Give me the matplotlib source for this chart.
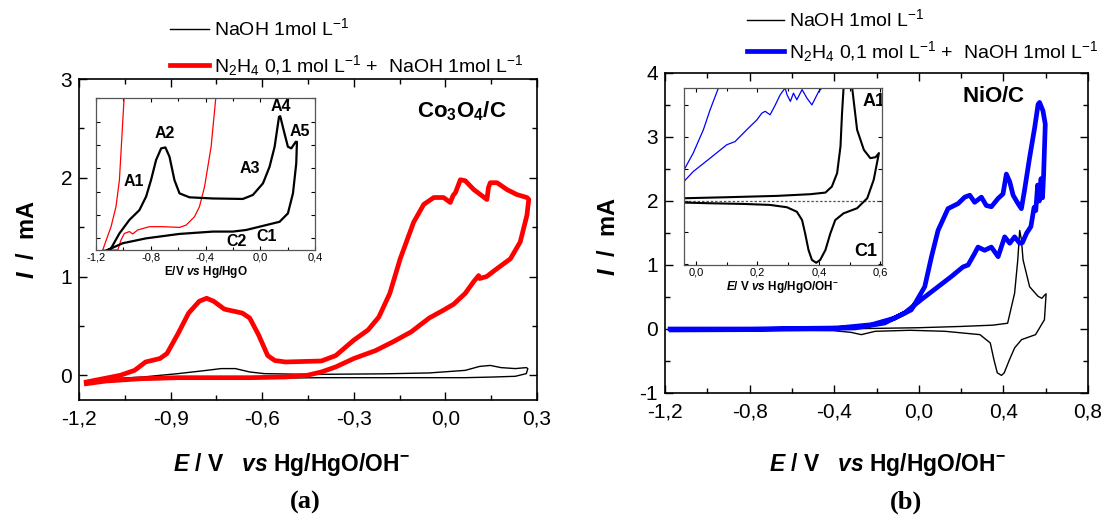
import numpy as np
import matplotlib
matplotlib.use('Agg')
import matplotlib.pyplot as plt
from matplotlib.ticker import MultipleLocator, FuncFormatter

plt.rcParams['font.family'] = ['Liberation Sans', 'DejaVu Sans']
plt.rcParams['mathtext.fontset'] = 'custom'
plt.rcParams['mathtext.rm'] = 'Liberation Sans'
plt.rcParams['mathtext.it'] = 'Liberation Sans:italic'
plt.rcParams['mathtext.bf'] = 'Liberation Sans:bold'
plt.rcParams['mathtext.bfit'] = 'Liberation Sans:bold:italic'

############################ (a) Co3O4/C - curvas principais ############################
co_naoh_E = [-1.18, -1.10, -0.99, -0.876, -0.782, -0.735, -0.688, -0.641, -0.594, -0.50,
             -0.406, -0.20, -0.053, 0.065, 0.112, 0.147, 0.182, 0.229, 0.265, 0.27,
             0.265, 0.229, 0.15, 0.065, -0.2, -0.406, -0.76, -0.99, -1.176]
co_naoh_I = [-0.06, -0.035, -0.017, 0.017, 0.05, 0.068, 0.068, 0.034, 0.017, 0.012,
             0.01, 0.015, 0.024, 0.05, 0.09, 0.10, 0.078, 0.068, 0.078, 0.068,
             0.017, -0.01, -0.018, -0.024, -0.024, -0.024, -0.034, -0.044, -0.068]

co_n2h4_E = [-1.176, -1.065, -1.018, -0.982, -0.935, -0.912, -0.876, -0.841, -0.806, -0.782,
             -0.759, -0.724, -0.665, -0.641, -0.612, -0.582, -0.559, -0.524, -0.406, -0.359,
             -0.30, -0.253, -0.218, -0.182, -0.148, -0.104, -0.071, -0.038, -0.006, 0.016,
             0.025, 0.033, 0.049, 0.065, 0.093, 0.136, 0.141, 0.147, 0.169, 0.202,
             0.234, 0.267, 0.273,
             0.267, 0.245, 0.213, 0.169, 0.135, 0.112, 0.109, 0.093, 0.065, 0.027,
             -0.006, -0.053, -0.112, -0.171, -0.229, -0.30, -0.359, -0.406, -0.453, -0.524,
             -0.641, -0.876, -0.994, -1.112, -1.176]
co_n2h4_I = [-0.068, 0.0, 0.05, 0.135, 0.17, 0.22, 0.42, 0.63, 0.75, 0.78,
             0.75, 0.67, 0.63, 0.58, 0.41, 0.20, 0.15, 0.135, 0.145, 0.20,
             0.356, 0.46, 0.59, 0.83, 1.18, 1.55, 1.73, 1.80, 1.80, 1.75,
             1.82, 1.85, 1.98, 1.97, 1.88, 1.78, 1.90, 1.95, 1.95, 1.88,
             1.83, 1.80, 1.78,
             1.62, 1.35, 1.18, 1.08, 1.00, 0.98, 1.01, 0.95, 0.83, 0.72,
             0.66, 0.58, 0.44, 0.34, 0.25, 0.17, 0.085, 0.034, 0.0, -0.017,
             -0.024, -0.024, -0.034, -0.058, -0.085]

############################ (a) inset (unidades arbitrarias) ############################
ins_a_naoh_E = [-1.115, -1.09, -1.029, -0.956, -0.883, -0.834, -0.798, -0.761, -0.724, -0.693,
                -0.663, -0.627, -0.59, -0.517, -0.346, -0.127, -0.054, 0.02, 0.068, 0.105,
                0.137, 0.146, 0.171, 0.202, 0.227, 0.259, 0.268,
                0.263, 0.239, 0.202, 0.141, 0.044, -0.005, -0.102, -0.20, -0.346, -0.59,
                -0.834, -1.005, -1.115]
ins_a_naoh_I = [-0.5, -0.43, 0.21, 0.79, 1.21, 1.79, 2.5, 3.36, 3.86, 3.9,
                3.5, 2.5, 1.93, 1.76, 1.71, 1.69, 1.86, 2.36, 3.07, 3.93,
                5.21, 5.24, 4.64, 3.93, 3.86, 4.14, 4.14,
                3.21, 1.93, 1.07, 0.71, 0.57, 0.5, 0.36, 0.29, 0.29, 0.19,
                0.0, -0.21, -0.5]
ins_a_n2h4_E = [-0.322, -0.359, -0.407, -0.444, -0.48, -0.541, -0.59, -0.712, -0.81, -0.895,
                -0.932, -0.956, -0.993, -1.017, -1.041, -1.151, -1.09, -1.054, -1.029, -0.993]
ins_a_n2h4_I = [6.2, 3.93, 2.21, 1.36, 0.93, 0.57, 0.47, 0.5, 0.5, 0.36,
                0.19, 0.29, 0.21, -0.07, -0.5, -0.5, 0.5, 1.36, 2.5, 6.2]

############################ (b) NiO/C - curvas principais ############################
ni_naoh_E = [-1.17, -0.80, -0.40, 0.0, 0.20, 0.35, 0.42, 0.453, 0.468, 0.477,
             0.485, 0.493, 0.524, 0.564, 0.582, 0.595, 0.602,
             0.594, 0.552, 0.486, 0.453, 0.429, 0.404, 0.391, 0.371, 0.355, 0.338,
             0.289, 0.124, -0.041, -0.206, -0.272, -0.321, -0.404, -0.865, -1.17]
ni_naoh_I = [-0.01, 0.0, 0.0, 0.02, 0.04, 0.06, 0.09, 0.56, 1.08, 1.54,
             1.40, 1.08, 0.66, 0.51, 0.48, 0.53, 0.55,
             0.145, -0.088, -0.166, -0.295, -0.477, -0.684, -0.725, -0.684, -0.477, -0.218,
             -0.088, -0.036, -0.02, -0.036, -0.088, -0.052, -0.026, -0.02, -0.02]

ni_n2h4_E = [-1.176, -0.80, -0.382, -0.224, -0.114, -0.035, 0.028, 0.06, 0.091, 0.138,
             0.186, 0.217, 0.241, 0.264, 0.296, 0.319, 0.343, 0.375, 0.398, 0.414,
             0.430, 0.446, 0.469, 0.485, 0.50, 0.524, 0.548, 0.564, 0.571, 0.587,
             0.598, 0.594, 0.590, 0.585, 0.578, 0.570, 0.562, 0.553, 0.545, 0.53,
             0.51, 0.49, 0.477, 0.453, 0.430, 0.406, 0.375, 0.343, 0.311, 0.28,
             0.264, 0.233, 0.209, 0.154, 0.091, 0.012, -0.067, -0.162, -0.303, -0.80, -1.17]
ni_n2h4_I = [0.0, 0.0, 0.016, 0.067, 0.17, 0.30, 0.66, 1.13, 1.54, 1.88,
             1.96, 2.06, 2.09, 1.98, 2.06, 1.93, 1.91, 2.04, 2.11, 2.42,
             2.30, 2.09, 1.96, 1.88, 2.17, 2.68, 3.15, 3.51, 3.54, 3.41,
             3.20, 2.80, 2.40, 2.05, 2.35, 2.00, 2.25, 1.85, 1.90, 1.60,
             1.50, 1.35, 1.34, 1.44, 1.34, 1.44, 1.13, 1.28, 1.23, 1.28,
             1.18, 1.00, 0.97, 0.82, 0.66, 0.46, 0.25, 0.093, 0.016, -0.01, -0.015]

############################ (b) inset (unidades arbitrarias) ############################
ins_b_naoh_E = [-0.039, 0.10, 0.263, 0.372, 0.421, 0.442, 0.459, 0.47, 0.475, 0.48,
                0.484, 0.502, 0.508, 0.524, 0.546, 0.567, 0.584, 0.595,
                0.578, 0.557, 0.524, 0.48, 0.453, 0.437, 0.421, 0.404, 0.391, 0.377,
                0.366, 0.355, 0.345, 0.328, 0.296, 0.241, 0.154, 0.046, -0.039]
ins_b_naoh_I = [0.073, 0.105, 0.147, 0.20, 0.251, 0.44, 0.86, 1.70, 2.74, 3.53,
                4.0, 3.9, 3.53, 2.22, 1.59, 1.33, 1.36, 1.49,
                0.65, 0.073, -0.24, -0.40, -0.61, -1.03, -1.55, -1.86, -1.95, -1.86,
                -1.55, -1.03, -0.61, -0.35, -0.21, -0.136, -0.105, -0.084, -0.063]
ins_b_n2h4_up_E = [-0.039, -0.009, 0.024, 0.046, 0.073, 0.08]
ins_b_n2h4_up_I = [0.96, 1.49, 2.22, 2.85, 3.53, 3.8]
ins_b_n2h4_lo_E = [-0.039, -0.009, 0.046, 0.10, 0.127, 0.165, 0.198, 0.214, 0.225, 0.241,
                   0.258, 0.274, 0.29, 0.296, 0.307, 0.317, 0.328, 0.345, 0.361, 0.377,
                   0.388, 0.399, 0.41, 0.415]
ins_b_n2h4_lo_I = [0.60, 0.91, 1.33, 1.75, 1.85, 2.22, 2.53, 2.74, 2.80, 2.69,
                   3.00, 3.32, 3.53, 3.32, 3.11, 3.37, 3.16, 3.48, 3.21, 3.00,
                   3.21, 3.42, 3.53, 3.8]

leg_naoh = 'NaOH 1mol L$^{-1}$'
leg_n2h4 = 'N$_2$H$_4$ 0,1 mol L$^{-1}$ +  NaOH 1mol L$^{-1}$'


def virgula(v, pos):
    s = f'{v:.1f}'
    if s == '-0.0':
        s = '0.0'
    return s.replace('.', ',')


def inteiro(v, pos):
    return f'{v:.0f}'


def estilo(ax, size=15, maj=6, mi=3.5):
    ax.tick_params(which='both', direction='in', top=True, right=True, labelsize=size)
    ax.tick_params(axis='x', pad=7)
    ax.tick_params(axis='y', pad=5)
    ax.tick_params(which='major', length=maj, width=1)
    ax.tick_params(which='minor', length=mi, width=1)
    for s in ax.spines.values():
        s.set_linewidth(1.2)


W, H = 1110, 522
fig = plt.figure(figsize=(W / 100, H / 100), dpi=100)


def caixa(x0, x1, y0, y1):
    return [x0 / W, 1 - y1 / H, (x1 - x0) / W, (y1 - y0) / H]


xlab = r'$\mathbfit{E}\mathbf{\ /\ V\ \ \ }\mathbfit{vs}\mathbf{\ Hg/HgO/OH^{-}}$'
ylab = r'$\mathbfit{I}\mathbf{\ \ /\ \ mA}$'

##################################### painel (a) #####################################
ax1 = fig.add_axes(caixa(79, 537, 79, 400))
lb1, = ax1.plot(co_naoh_E, co_naoh_I, color='black', lw=1.0, label=leg_naoh)
lr1, = ax1.plot(co_n2h4_E, co_n2h4_I, color='red', lw=3.4, label=leg_n2h4,
                solid_joinstyle='round')
ax1.set_xlim(-1.2, 0.3)
ax1.set_ylim(-0.25, 3)
ax1.xaxis.set_major_locator(MultipleLocator(0.3))
ax1.xaxis.set_minor_locator(MultipleLocator(0.15))
ax1.yaxis.set_major_locator(MultipleLocator(1))
ax1.yaxis.set_minor_locator(MultipleLocator(0.5))
ax1.xaxis.set_major_formatter(FuncFormatter(virgula))
ax1.yaxis.set_major_formatter(FuncFormatter(inteiro))
estilo(ax1)
ax1.set_xlabel(xlab, fontsize=16.5)
ax1.set_ylabel(ylab, fontsize=17)
ax1.xaxis.set_label_coords(0.465, -0.16)
ax1.yaxis.set_label_coords(-0.088, 0.5)
ax1.text(0.055, 2.67, r'$\mathbf{Co_3O_4/C}$', fontsize=16, ha='center', va='center')
ax1.legend(handles=[lb1, lr1], loc='lower left', bbox_to_anchor=(170 / W, 1 - 78 / H),
           bbox_transform=fig.transFigure, frameon=False, borderpad=0, borderaxespad=0,
           handlelength=2.0, handletextpad=0.25, labelspacing=0.7, fontsize=14)

ai1 = fig.add_axes(caixa(96, 315, 98, 250))
ai1.plot(ins_a_n2h4_E, ins_a_n2h4_I, color='red', lw=0.9)
ai1.plot(ins_a_naoh_E, ins_a_naoh_I, color='black', lw=1.6)
ai1.set_xlim(-1.2, 0.4)
ai1.set_ylim(-0.5, 6.02)
ai1.xaxis.set_major_locator(MultipleLocator(0.4))
ai1.xaxis.set_minor_locator(MultipleLocator(0.2))
ai1.yaxis.set_major_locator(MultipleLocator(1))
ai1.xaxis.set_major_formatter(FuncFormatter(virgula))
ai1.tick_params(which='both', direction='in', top=True, right=True, labelsize=8, pad=2)
ai1.tick_params(which='major', length=3, width=0.8)
ai1.tick_params(which='minor', length=2, width=0.8)
ai1.tick_params(axis='y', labelleft=False)
for s in ai1.spines.values():
    s.set_linewidth(0.9)
    s.set_color('#555555')
ai1.set_xlabel(r'$\mathbf{E/V\ }\mathbfit{vs}\mathbf{\ Hg/HgO}$', fontsize=8.5, labelpad=1)
for lab, x, y in [('A1', -0.92, 2.43), ('A2', -0.70, 4.5), ('A3', -0.078, 3.0),
                  ('A4', 0.154, 5.67), ('A5', 0.288, 4.57), ('C2', -0.176, -0.14),
                  ('C1', 0.044, 0.07)]:
    ai1.text(x, y, lab, fontsize=11.5, weight='bold', ha='center', va='center')

##################################### painel (b) #####################################
ax2 = fig.add_axes(caixa(665, 1088, 73, 393))
lb2, = ax2.plot(ni_naoh_E, ni_naoh_I, color='black', lw=1.0, label=leg_naoh)
lu2, = ax2.plot(ni_n2h4_E, ni_n2h4_I, color='blue', lw=3.4, label=leg_n2h4,
                solid_joinstyle='round')
ax2.set_xlim(-1.2, 0.8)
ax2.set_ylim(-1, 4)
ax2.xaxis.set_major_locator(MultipleLocator(0.4))
ax2.xaxis.set_minor_locator(MultipleLocator(0.2))
ax2.yaxis.set_major_locator(MultipleLocator(1))
ax2.yaxis.set_minor_locator(MultipleLocator(0.5))
ax2.xaxis.set_major_formatter(FuncFormatter(virgula))
ax2.yaxis.set_major_formatter(FuncFormatter(inteiro))
estilo(ax2)
ax2.set_xlabel(xlab, fontsize=16.5)
ax2.set_ylabel(ylab, fontsize=17)
ax2.xaxis.set_label_coords(0.525, -0.18)
ax2.yaxis.set_label_coords(-0.106, 0.49)
ax2.text(0.354, 3.64, r'$\mathbf{NiO/C}$', fontsize=16, ha='center', va='center')
ax2.legend(handles=[lb2, lu2], loc='lower left', bbox_to_anchor=(747 / W, 1 - 64 / H),
           bbox_transform=fig.transFigure, frameon=False, borderpad=0, borderaxespad=0,
           handlelength=1.9, handletextpad=0.25, labelspacing=0.45, fontsize=14)

ai2 = fig.add_axes(caixa(684, 882, 88, 265))
ai2.axhline(0, color='#555555', lw=0.9, ls=(0, (2, 1.5)))
ai2.plot(ins_b_n2h4_up_E, ins_b_n2h4_up_I, color='blue', lw=0.9)
ai2.plot(ins_b_n2h4_lo_E, ins_b_n2h4_lo_I, color='blue', lw=0.9)
ai2.plot(ins_b_naoh_E, ins_b_naoh_I, color='black', lw=1.5)
ai2.set_xlim(-0.039, 0.605)
ai2.set_ylim(-2.02, 3.53)
ai2.xaxis.set_major_locator(MultipleLocator(0.2))
ai2.xaxis.set_minor_locator(MultipleLocator(0.1))
ai2.yaxis.set_major_locator(MultipleLocator(1))
ai2.xaxis.set_major_formatter(FuncFormatter(virgula))
ai2.tick_params(which='both', direction='in', top=True, right=True, labelsize=8, pad=2)
ai2.tick_params(which='major', length=3, width=0.8)
ai2.tick_params(which='minor', length=2, width=0.8)
ai2.tick_params(axis='y', labelleft=False)
for s in ai2.spines.values():
    s.set_linewidth(0.9)
    s.set_color('#555555')
ai2.set_xlabel(r'$\mathbfit{E}\mathbf{/\ V\ }\mathbfit{vs}\mathbf{\ Hg/HgO/OH^{-}}$',
               fontsize=8.5, labelpad=1)
ai2.text(0.578, 3.1, 'A1', fontsize=13, weight='bold', ha='center', va='center', clip_on=True)
ai2.text(0.551, -1.6, 'C1', fontsize=13, weight='bold', ha='center', va='center')

fig.text(305 / W, 1 - 502 / H, '(a)', family='Liberation Serif', weight='bold',
         fontsize=19, ha='center', va='center')
fig.text(906 / W, 1 - 502 / H, '(b)', family='Liberation Serif', weight='bold',
         fontsize=19, ha='center', va='center')

fig.savefig('out.png', dpi=100)
